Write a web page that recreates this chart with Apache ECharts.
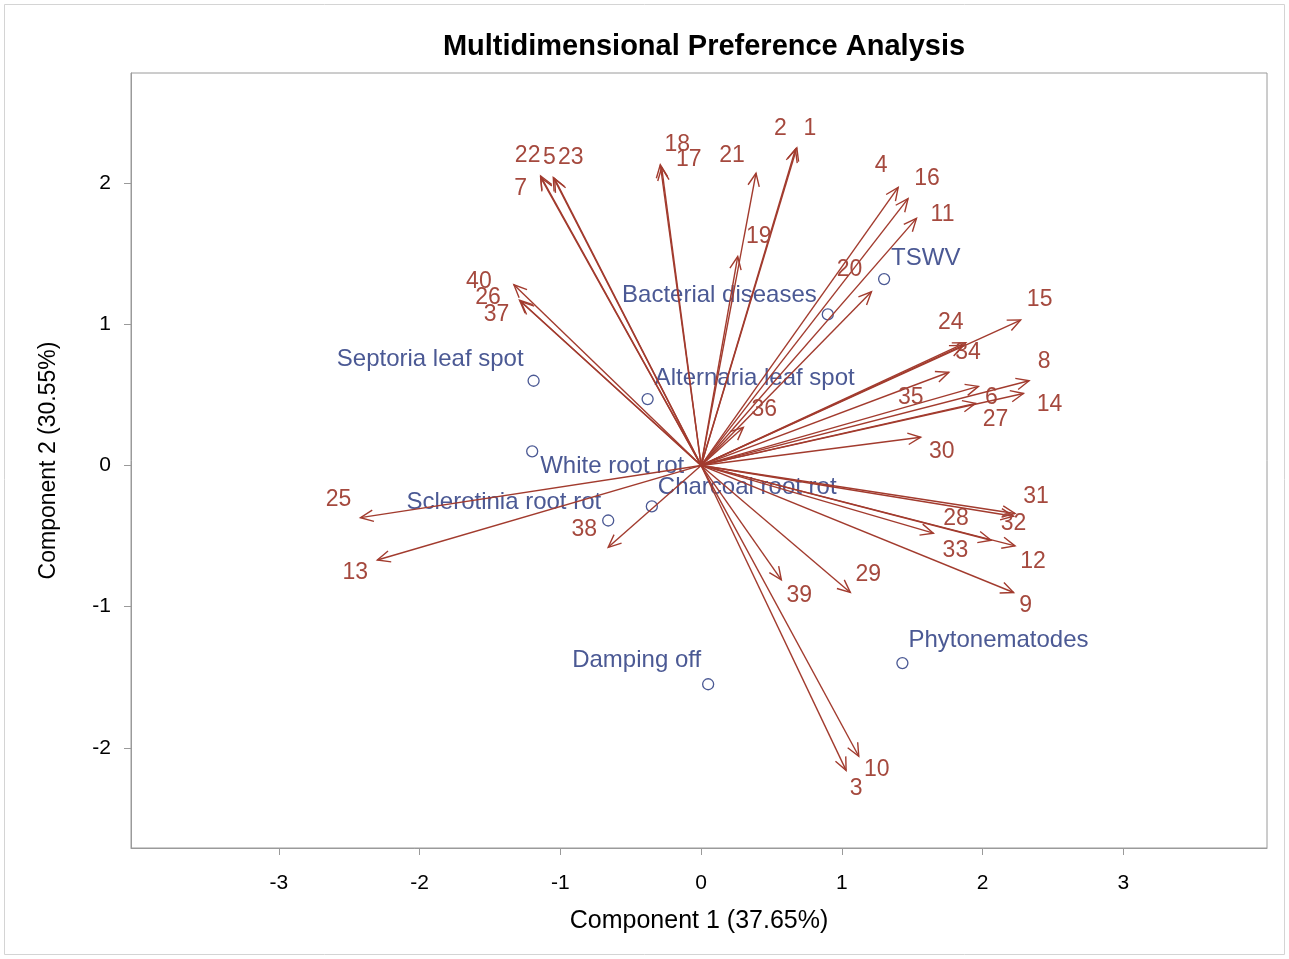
<!DOCTYPE html>
<html>
<head>
<meta charset="utf-8">
<script src="https://cdn.jsdelivr.net/npm/echarts@6/dist/echarts.min.js"></script>
<style>
  html, body { margin: 0; padding: 0; background: #ffffff; }
  #chart { width: 1289px; height: 959px; }
</style>
</head>
<body>
<div id="chart"></div>
<script>
// Judge (preference) vectors: id, component 1, component 2
const judgeIds = ['1','2','3','4','5','6','7','8','9','10',
                  '11','12','13','14','15','16','17','18','19','20',
                  '21','22','23','24','25','26','27','28','29','30',
                  '31','32','33','34','35','36','37','38','39','40'];
const judgeX = [0.68, 0.67, 1.03, 1.40, -1.05, 1.97, -1.14, 2.33, 2.22, 1.12,
                1.53, 2.23, -2.30, 2.29, 2.27, 1.47, -0.28, -0.29, 0.26, 1.21,
                0.39, -1.14, -1.04, 1.88, -2.42, -1.28, 1.95, 2.06, 1.06, 1.56,
                2.23, 2.22, 1.65, 1.86, 1.76, 0.30, -1.29, -0.66, 0.57, -1.33];
const judgeY = [2.25, 2.24, -2.16, 1.97, 2.04, 0.56, 2.04, 0.60, -0.90, -2.06,
                1.75, -0.57, -0.67, 0.51, 1.03, 1.89, 2.11, 2.13, 1.48, 1.23,
                2.07, 2.05, 2.03, 0.87, -0.37, 1.16, 0.44, -0.53, -0.90, 0.20,
                -0.34, -0.36, -0.48, 0.85, 0.66, 0.27, 1.17, -0.58, -0.81, 1.28];

// Disease scores
const diseaseNames = ['TSWV', 'Bacterial diseases', 'Septoria leaf spot', 'Alternaria leaf spot',
                      'White root rot', 'Sclerotinia root rot', 'Charcoal root rot',
                      'Damping off', 'Phytonematodes'];
const diseaseX = [1.30, 0.90, -1.19, -0.38, -1.20, -0.66, -0.35, 0.05, 1.43];
const diseaseY = [1.32, 1.07, 0.60, 0.47, 0.10, -0.39, -0.29, -1.55, -1.40];

const xTicks = [-3, -2, -1, 0, 1, 2, 3];
const yTicks = [-2, -1, 0, 1, 2];

// Label placement around each vector tip (pixels)
const judgeLabelOffset = {
  '1': [13, -19], '2': [-15, -21], '3': [10, 18], '4': [-17, -22], '5': [-4, -20],
  '6': [13, 11], '7': [-20, 11], '8': [15, -19], '9': [12, 13], '10': [18, 13],
  '11': [26, -4], '12': [18, 16], '13': [-22, 13], '14': [26, 11], '15': [19, -20],
  '16': [19, -20], '17': [27, -8], '18': [17, -20], '19': [21, -20], '20': [-22, -22],
  '21': [-24, -18], '22': [-13, -20], '23': [16, -21], '24': [-15, -20], '25': [-22, -18],
  '26': [-33, -4], '27': [20, 16], '28': [-35, -22], '29': [18, -18], '30': [21, 14],
  '31': [21, -17], '32': [0, 7], '33': [22, 17], '34': [5, 7], '35': [-38, 25],
  '36': [21, -18], '37': [-23, 14], '38': [-24, -18], '39': [18, 16], '40': [-35, -3]
};

// Disease label placement: [dx, dy, align]
const diseaseLabelPlace = {
  'TSWV': [7, -21, 'left'],
  'Bacterial diseases': [-11, -19, 'right'],
  'Septoria leaf spot': [-10, -21, 'right'],
  'Alternaria leaf spot': [7, -21, 'left'],
  'White root rot': [8, 15, 'left'],
  'Sclerotinia root rot': [-7, -18, 'right'],
  'Charcoal root rot': [6, -19, 'left'],
  'Damping off': [-7, -24, 'right'],
  'Phytonematodes': [6, -23, 'left']
};

const FONT = '"Liberation Sans", Arial, sans-serif';
const VEC_COLOR = '#A23B2E';
const VEC_TEXT = '#A5493E';
const DIS_COLOR = '#4B5994';

const judgeData = judgeIds.map((id, i) => [judgeX[i], judgeY[i], id]);
const diseaseData = diseaseNames.map((n, i) => [diseaseX[i], diseaseY[i], n]);

const chart = echarts.init(document.getElementById('chart'), null, { renderer: 'canvas' });

chart.setOption({
  backgroundColor: '#ffffff',
  animation: false,
  title: {
    text: 'Multidimensional Preference Analysis',
    left: 699, top: 27, textAlign: 'center',
    textStyle: { fontFamily: FONT, fontWeight: 'bold', fontSize: 29, color: '#000' }
  },
  graphic: [{
    type: 'rect', silent: true,
    shape: { x: 4.5, y: 4.5, width: 1280, height: 950 },
    style: { fill: 'none', stroke: '#d4d4d4', lineWidth: 1 }
  }],
  grid: {
    left: 131, right: 22, top: 73, bottom: 111,
    show: true, borderColor: '#9a9a9a', borderWidth: 1, backgroundColor: 'transparent'
  },
  xAxis: {
    type: 'value', min: -4.05, max: 4.02,
    name: 'Component 1 (37.65%)', nameLocation: 'middle', nameGap: 61,
    nameTextStyle: { fontFamily: FONT, fontSize: 25, color: '#000' },
    axisLine: { show: true, onZero: false, lineStyle: { color: '#9a9a9a' } },
    axisTick: { show: true, customValues: xTicks, length: 7, lineStyle: { color: '#9a9a9a' } },
    axisLabel: { customValues: xTicks, fontFamily: FONT, fontSize: 21, color: '#000', margin: 25 },
    splitLine: { show: false }
  },
  yAxis: {
    type: 'value', min: -2.71, max: 2.78,
    name: 'Component 2 (30.55%)', nameLocation: 'middle', nameGap: 71,
    nameTextStyle: { fontFamily: FONT, fontSize: 23, color: '#000' },
    axisLine: { show: true, onZero: false, lineStyle: { color: '#9a9a9a' } },
    axisTick: { show: true, customValues: yTicks, length: 7, lineStyle: { color: '#9a9a9a' } },
    axisLabel: { customValues: yTicks, fontFamily: FONT, fontSize: 21, color: '#000', margin: 20 },
    splitLine: { show: false }
  },
  series: [
    {
      // disease points with their names
      type: 'custom',
      data: diseaseData,
      z: 2,
      renderItem: function (params, api) {
        const p = api.coord([api.value(0), api.value(1)]);
        const name = diseaseData[params.dataIndex][2];
        const pl = diseaseLabelPlace[name];
        return {
          type: 'group',
          children: [
            { type: 'circle', shape: { cx: p[0], cy: p[1], r: 5.5 },
              style: { fill: 'none', stroke: DIS_COLOR, lineWidth: 1.3 } },
            { type: 'text',
              style: { text: name, x: p[0] + pl[0], y: p[1] + pl[1], align: pl[2],
                       verticalAlign: 'middle', fill: DIS_COLOR,
                       font: '24px ' + FONT } }
          ]
        };
      }
    },
    {
      // judge vectors from the origin, with open arrowheads
      type: 'custom',
      data: judgeData,
      z: 3,
      renderItem: function (params, api) {
        const o = api.coord([0, 0]);
        const p = api.coord([api.value(0), api.value(1)]);
        const ang = Math.atan2(p[1] - o[1], p[0] - o[0]);
        const L = 14, a = Math.PI / 7.5;
        const h1 = [p[0] - L * Math.cos(ang - a), p[1] - L * Math.sin(ang - a)];
        const h2 = [p[0] - L * Math.cos(ang + a), p[1] - L * Math.sin(ang + a)];
        const id = judgeData[params.dataIndex][2];
        const off = judgeLabelOffset[id];
        return {
          type: 'group',
          children: [
            { type: 'line', shape: { x1: o[0], y1: o[1], x2: p[0], y2: p[1] },
              style: { stroke: VEC_COLOR, lineWidth: 1.4 } },
            { type: 'polyline', shape: { points: [h1, p, h2] },
              style: { stroke: VEC_COLOR, lineWidth: 1.4, fill: 'none' } },
            { type: 'text',
              style: { text: id, x: p[0] + off[0], y: p[1] + off[1], align: 'center',
                       verticalAlign: 'middle', fill: VEC_TEXT, font: '23px ' + FONT } }
          ]
        };
      }
    }
  ]
});
</script>
</body>
</html>
